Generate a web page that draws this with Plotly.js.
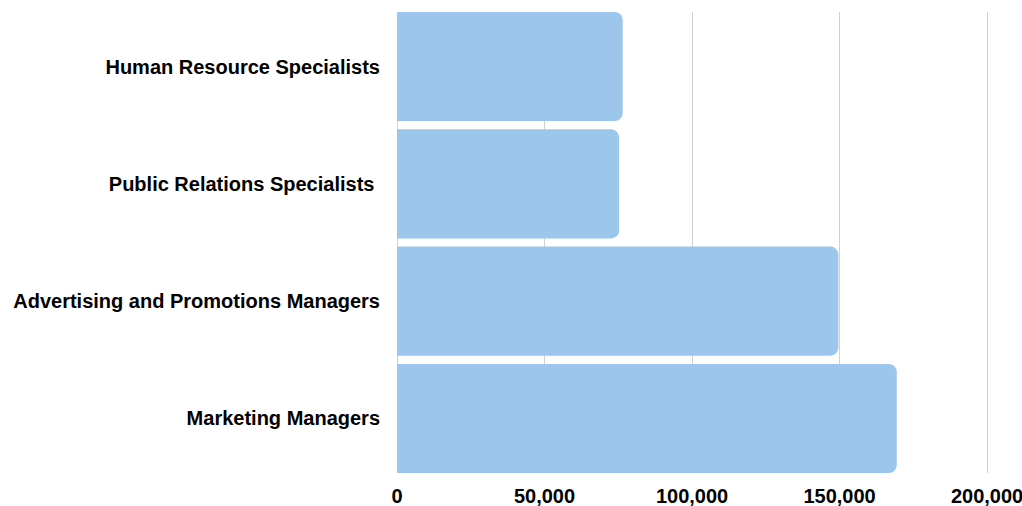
<!DOCTYPE html>
<html>
<head>
<meta charset="utf-8">
<script src="https://cdn.plot.ly/plotly-3.0.1.min.js"></script>
<style>html,body{margin:0;padding:0;background:#fff;}#chart{width:1022px;height:506px;}</style>
</head>
<body>
<div id="chart"></div>
<script>
const categories = ["Human Resource Specialists", "Public Relations Specialists\u00A0", "Advertising and Promotions Managers", "Marketing Managers"];
const salaries = [76500, 75300, 149600, 169400];
const tickValues = [0, 50000, 100000, 150000, 200000];
const tickLabels = ["0", "50,000", "100,000", "150,000", "200,000"];

const fontFamily = "Liberation Sans, Arial, sans-serif";
const gap = 0.07;
const half = (1 - gap) / 2;

Plotly.newPlot("chart", [{
  type: "bar",
  orientation: "h",
  y: categories,
  x: salaries,
  marker: {color: "#9dc6ec", cornerradius: 8, line: {width: 0}},
  hoverinfo: "none"
}], {
  width: 1022, height: 506,
  margin: {l: 397, r: 32, t: 12, b: 33},
  paper_bgcolor: "#fff", plot_bgcolor: "#fff",
  bargap: gap,
  showlegend: false,
  font: {family: fontFamily, size: 20, color: "#000"},
  xaxis: {
    range: [0, 201000],
    tickvals: tickValues, ticktext: tickLabels,
    showgrid: true, gridcolor: "#d0d0d0", gridwidth: 1,
    zeroline: true, zerolinecolor: "#d0d0d0", zerolinewidth: 1,
    showline: false, ticks: "",
    ticklabelstandoff: 9,
    ticklabeloverflow: "allow",
    tickfont: {family: fontFamily, size: 20, color: "#000", weight: "bold"},
    fixedrange: true
  },
  yaxis: {
    type: "category",
    categoryorder: "array", categoryarray: categories,
    range: [categories.length - 1 + half, -half],
    showgrid: false, zeroline: false, showline: false, ticks: "",
    ticklabelstandoff: 16,
    tickfont: {family: fontFamily, size: 20, color: "#000", weight: "bold"},
    fixedrange: true
  }
}, {displayModeBar: false, staticPlot: true});
</script>
</body>
</html>
